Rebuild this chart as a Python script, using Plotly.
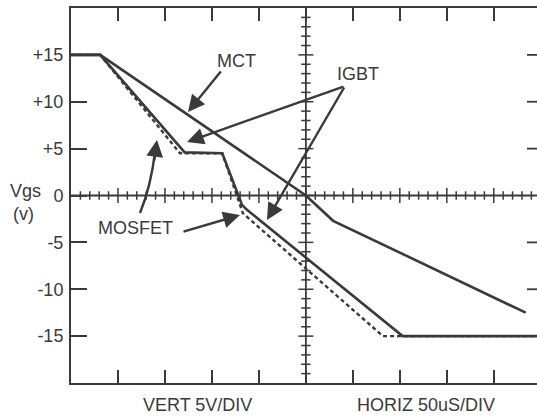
import plotly.graph_objects as go

# ---- data (time in microseconds, Vgs in volts) ----
mct_t = [-250, -219, 0, 29, 234]
mct_v = [15, 15, 0, -2.7, -12.5]

igbt_t = [-250, -219, -129, -89, -68, -63, 103, 246]
igbt_v = [15, 15, 4.6, 4.5, -1.0, -1.5, -15, -15]

mosfet_t = [-250, -219, -134, -89, -67, 82, 246]
mosfet_v = [15, 15, 4.5, 4.5, -1.9, -15, -15]

y_ticks = [-15, -10, -5, 0, 5, 10, 15]
y_text = ["-15", "-10", "-5", "0", "+5", "+10", "+15"]
x_div = [-200, -150, -100, -50, 0, 50, 100, 150, 200]

# ---- layout geometry ----
W, H = 537, 416
ML, MR, MT, MB = 71, 0, 8, 33
XR = [-250, 246]
YR = [-20, 20]
PW = W - ML - MR
PH = H - MT - MB

def px2x(px):
    return XR[0] + (px - ML) * (XR[1] - XR[0]) / PW

def py2y(py):
    return YR[1] - (py - MT) * (YR[1] - YR[0]) / PH

def px2p(px):
    return (px - ML) / PW

def py2p(py):
    return 1 - (py - MT) / PH

INK = "#3a3a3a"
FONT = "Liberation Sans, Arial, sans-serif"

fig = go.Figure()
fig.add_trace(go.Scatter(x=mosfet_t, y=mosfet_v, mode="lines",
                         line=dict(color=INK, width=2.4, dash="4px,3px"),
                         hoverinfo="skip", showlegend=False))
fig.add_trace(go.Scatter(x=igbt_t, y=igbt_v, mode="lines",
                         line=dict(color=INK, width=2.6),
                         hoverinfo="skip", showlegend=False))
fig.add_trace(go.Scatter(x=mct_t, y=mct_v, mode="lines",
                         line=dict(color=INK, width=2.6),
                         hoverinfo="skip", showlegend=False))

shapes = []
line_style = dict(color=INK, width=1.8)
# center graticule lines
shapes.append(dict(type="line", xref="x", yref="y", x0=XR[0], x1=XR[1], y0=0, y1=0, line=line_style))
shapes.append(dict(type="line", xref="x", yref="y", x0=0, x1=0, y0=YR[0], y1=YR[1], line=line_style))
# minor/major ticks on horizontal center axis (every 1/5 div = 10 us)
for t in range(-240, 246, 10):
    major = (t % 50 == 0)
    h = 0.8 if major else 0.45
    shapes.append(dict(type="line", xref="x", yref="y", x0=t, x1=t, y0=-h, y1=h,
                       line=dict(color=INK, width=1.5)))
# ticks on vertical center axis (every 1 V)
for v in range(-19, 20):
    major = (v % 5 == 0)
    w = 8 if major else 5
    shapes.append(dict(type="line", xref="x", yref="y", x0=-w, x1=w, y0=v, y1=v,
                       line=dict(color=INK, width=1.5)))
# right edge inward ticks
for v in [-15, -10, -5, 5, 10, 15]:
    shapes.append(dict(type="line", xref="x", yref="y", x0=px2x(527), x1=XR[1], y0=v, y1=v,
                       line=dict(color=INK, width=1.8)))
# curved pointer line for MOSFET (lower-left)
p0 = (px2x(140), py2y(213))
pc = (px2x(151), py2y(186))
p1 = (px2x(155), py2y(152))
shapes.append(dict(type="path", xref="x", yref="y",
                   path=f"M {p0[0]},{p0[1]} Q {pc[0]},{pc[1]} {p1[0]},{p1[1]}",
                   line=dict(color=INK, width=2.4)))
fig.update_layout(shapes=shapes)

ann = []
def arrow(tail, head, size=1.4):
    ann.append(dict(x=px2x(head[0]), y=py2y(head[1]), ax=px2x(tail[0]), ay=py2y(tail[1]),
                    xref="x", yref="y", axref="x", ayref="y", text="",
                    showarrow=True, arrowhead=2, arrowsize=size, arrowwidth=2.4,
                    arrowcolor=INK, standoff=0, startstandoff=0))

arrow((222, 70), (188, 112))       # MCT
arrow((345, 86), (187, 142))       # IGBT 1
arrow((345, 86), (267, 220))       # IGBT 2
arrow((182, 232), (240, 215))      # MOSFET
arrow((154, 162), (157, 140))      # MOSFET curved pointer head

def label(text, px, py, size=18, xanchor="center"):
    ann.append(dict(x=px2p(px), y=py2p(py), xref="paper", yref="paper", text=text,
                    showarrow=False, xanchor=xanchor, yanchor="middle",
                    font=dict(family=FONT, size=size, color=INK)))

label("MCT", 236, 61)
label("IGBT", 358, 74)
label("MOSFET", 135, 228)
label("Vgs", 25, 191)
label("(v)", 23, 214)
label("VERT 5V/DIV", 197, 405)
label("HORIZ 50uS/DIV", 426, 405)
fig.update_layout(annotations=ann)

fig.update_layout(
    width=W, height=H,
    margin=dict(l=ML, r=MR, t=MT, b=MB, pad=0),
    paper_bgcolor="white", plot_bgcolor="white",
    font=dict(family=FONT, size=18, color=INK),
    xaxis=dict(range=XR, showgrid=False, zeroline=False, showticklabels=False,
               showline=True, linecolor=INK, linewidth=2, mirror="ticks",
               ticks="inside", ticklen=13, tickwidth=1.8, tickcolor=INK,
               tickmode="array", tickvals=x_div, fixedrange=True),
    yaxis=dict(range=YR, showgrid=False, zeroline=False,
               showline=True, linecolor=INK, linewidth=2, mirror=False,
               ticks="inside", ticklen=16, tickwidth=1.8, tickcolor=INK,
               tickmode="array", tickvals=y_ticks, ticktext=y_text,
               ticklabelstandoff=2, fixedrange=True,
               tickfont=dict(family=FONT, size=18, color=INK)),
)

fig.write_html("out.html", config={"displayModeBar": False},
               post_script="document.body.style.margin='0';document.body.style.padding='0';"
                           "document.documentElement.style.overflow='hidden';")
